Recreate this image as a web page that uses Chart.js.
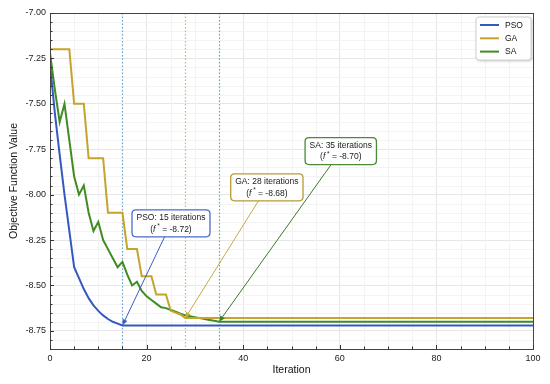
<!DOCTYPE html>
<html><head><meta charset="utf-8">
<script src="https://cdn.jsdelivr.net/npm/chart.js@4.4.1/dist/chart.umd.min.js"></script>
<style>html,body{margin:0;padding:0;background:#fff}</style>
</head><body>
<canvas id="c" width="550" height="384"></canvas>
<script>
// ---- data ----
const seriesNames = ['PSO', 'GA', 'SA'];
const psoIterations = [0,1,2,3,4,5,6,7,8,9,10,11,12,13,14,15,100];
const psoValues = [-7.28,-7.55,-7.78,-8.00,-8.20,-8.40,-8.46,-8.52,-8.57,-8.61,-8.64,-8.665,-8.685,-8.70,-8.71,-8.72,-8.72];
const gaIterations = [0,1,2,3,4,5,6,7,8,9,10,11,12,13,14,15,16,17,18,19,20,21,22,23,24,25,26,27,28,100];
const gaValues = [-7.2,-7.2,-7.2,-7.2,-7.2,-7.5,-7.5,-7.5,-7.8,-7.8,-7.8,-7.8,-8.1,-8.1,-8.1,-8.1,-8.3,-8.3,-8.3,-8.45,-8.45,-8.45,-8.55,-8.55,-8.55,-8.64,-8.65,-8.66,-8.68,-8.68];
const saIterations = [0,1,2,3,4,5,6,7,8,9,10,11,12,13,14,15,16,17,18,19,20,21,22,23,24,25,26,27,28,29,30,31,32,33,34,35,100];
const saValues = [-7.22,-7.42,-7.60,-7.50,-7.70,-7.90,-8.00,-7.95,-8.10,-8.20,-8.15,-8.25,-8.30,-8.35,-8.40,-8.37,-8.44,-8.50,-8.48,-8.53,-8.56,-8.58,-8.60,-8.62,-8.625,-8.635,-8.645,-8.655,-8.665,-8.67,-8.675,-8.68,-8.685,-8.69,-8.695,-8.70,-8.70];
// convergence annotations
const convergenceIterations = [15, 28, 35];
const convergenceValues = [-8.72, -8.68, -8.70];
const xTickValues = [0, 20, 40, 60, 80, 100];
const yTickValues = [-8.75, -8.50, -8.25, -8.00, -7.75, -7.50, -7.25, -7.00];

// ---- styling (not data) ----
const colors = ['#3558c0', '#c4a42a', '#3f8c22'];
const boxBorders = ['#4a6ccc', '#b89a32', '#4d8a36'];
const arrowColors = ['#3d5cc0', '#c4aa44', '#3d7a2a'];
const vlineColors = ['rgba(90,160,210,0.9)', 'rgba(235,160,80,0.9)', 'rgba(80,170,170,0.9)'];
const boxCenters = [[25.05, -8.158], [44.9, -7.96], [60.2, -7.76]]; // data-space placement of boxes
const FONT = '"Liberation Sans", Arial, Helvetica, sans-serif';

function pts(xs, ys) { return xs.map((v, i) => ({x: v, y: ys[i]})); }

function roundRect(ctx, x, y, w, h, r) {
  ctx.beginPath();
  ctx.moveTo(x + r, y);
  ctx.lineTo(x + w - r, y); ctx.quadraticCurveTo(x + w, y, x + w, y + r);
  ctx.lineTo(x + w, y + h - r); ctx.quadraticCurveTo(x + w, y + h, x + w - r, y + h);
  ctx.lineTo(x + r, y + h); ctx.quadraticCurveTo(x, y + h, x, y + h - r);
  ctx.lineTo(x, y + r); ctx.quadraticCurveTo(x, y, x + r, y);
  ctx.closePath();
}

const decor = {
  id: 'decor',
  beforeDatasetsDraw(chart) {
    const {ctx, chartArea: a, scales: {x, y}} = chart;
    ctx.save();
    // minor grid
    ctx.strokeStyle = '#f3f3f3'; ctx.lineWidth = 1;
    for (let v = 5; v < 100; v += 5) {
      if (v % 20 === 0) continue;
      const px = Math.round(x.getPixelForValue(v)) + 0.5;
      ctx.beginPath(); ctx.moveTo(px, a.top); ctx.lineTo(px, a.bottom); ctx.stroke();
    }
    for (let k = -176; k < -140; k++) {
      if (k % 5 === 0) continue;
      const py = Math.round(y.getPixelForValue(k * 0.05)) + 0.5;
      ctx.beginPath(); ctx.moveTo(a.left, py); ctx.lineTo(a.right, py); ctx.stroke();
    }
    // dotted vertical convergence lines
    ctx.lineWidth = 1.2;
    ctx.setLineDash([1.5, 2]);
    convergenceIterations.forEach((it, i) => {
      const px = Math.round(x.getPixelForValue(it)) + 0.5;
      ctx.strokeStyle = vlineColors[i];
      ctx.beginPath(); ctx.moveTo(px, a.top); ctx.lineTo(px, a.bottom); ctx.stroke();
    });
    ctx.restore();
  },
  afterDatasetsDraw(chart) {
    const {ctx, scales: {x, y}} = chart;
    ctx.save();
    const base = '8.5px ' + FONT;
    convergenceIterations.forEach((it, i) => {
      const tx = x.getPixelForValue(it), ty = y.getPixelForValue(convergenceValues[i]);
      const cx = x.getPixelForValue(boxCenters[i][0]), cy = y.getPixelForValue(boxCenters[i][1]);
      // arrow
      ctx.strokeStyle = arrowColors[i]; ctx.fillStyle = arrowColors[i]; ctx.lineWidth = 1;
      const ang = Math.atan2(ty - cy, tx - cx);
      const hl = 6, hw = 2.6;
      const bx = tx - hl * Math.cos(ang), by = ty - hl * Math.sin(ang);
      ctx.beginPath(); ctx.moveTo(cx, cy); ctx.lineTo(bx, by); ctx.stroke();
      ctx.beginPath();
      ctx.moveTo(tx, ty);
      ctx.lineTo(bx + hw * Math.sin(ang), by - hw * Math.cos(ang));
      ctx.lineTo(bx - hw * Math.sin(ang), by + hw * Math.cos(ang));
      ctx.closePath(); ctx.fill();
      // box
      const line1 = seriesNames[i] + ': ' + it + ' iterations';
      ctx.font = base;
      const w = ctx.measureText(line1).width + 9, h = 27;
      roundRect(ctx, cx - w / 2, cy - h / 2, w, h, 4);
      ctx.fillStyle = 'rgba(255,255,255,0.95)'; ctx.fill();
      ctx.strokeStyle = boxBorders[i]; ctx.lineWidth = 1.3; ctx.stroke();
      ctx.fillStyle = '#1a1a1a'; ctx.textBaseline = 'middle'; ctx.textAlign = 'left';
      ctx.fillText(line1, cx - ctx.measureText(line1).width / 2, cy - 5.5);
      const parts = [['(', base, 0], ['f', 'italic ' + base, 0], [' *', '6.5px ' + FONT, -3], [' = ' + convergenceValues[i].toFixed(2) + ')', base, 0]];
      let tw = 0;
      parts.forEach(p => { ctx.font = p[1]; tw += ctx.measureText(p[0]).width; });
      let px = cx - tw / 2;
      parts.forEach(p => { ctx.font = p[1]; ctx.fillText(p[0], px, cy + 6 + p[2]); px += ctx.measureText(p[0]).width; });
    });
    ctx.restore();
  },
  afterDraw(chart) {
    const {ctx, chartArea: a, scales: {x, y}} = chart;
    ctx.save();
    // frame
    ctx.strokeStyle = '#444'; ctx.lineWidth = 1;
    ctx.strokeRect(Math.round(a.left) + 0.5, Math.round(a.top) + 0.5, Math.round(a.right - a.left), Math.round(a.bottom - a.top));
    // inward ticks
    ctx.strokeStyle = '#333';
    for (let v = 0; v <= 100; v += 5) {
      const px = Math.round(x.getPixelForValue(v)) + 0.5, len = v % 20 === 0 ? 4 : 2.5;
      ctx.beginPath(); ctx.moveTo(px, a.bottom); ctx.lineTo(px, a.bottom - len); ctx.stroke();
    }
    for (let k = -177; k <= -140; k++) {
      const py = Math.round(y.getPixelForValue(k * 0.05)) + 0.5, len = k % 5 === 0 ? 4 : 2.5;
      ctx.beginPath(); ctx.moveTo(a.left, py); ctx.lineTo(a.left + len, py); ctx.stroke();
    }
    // legend
    const lw = 55, lh = 43, lx = a.right - lw - 2, ly = a.top + 4;
    ctx.shadowColor = 'rgba(0,0,0,0.25)'; ctx.shadowBlur = 3; ctx.shadowOffsetX = 1; ctx.shadowOffsetY = 1;
    roundRect(ctx, lx, ly, lw, lh, 3);
    ctx.fillStyle = '#fff'; ctx.fill();
    ctx.shadowColor = 'transparent';
    ctx.strokeStyle = '#d0d0d0'; ctx.lineWidth = 1; ctx.stroke();
    ctx.font = '8.5px ' + FONT; ctx.textBaseline = 'middle'; ctx.textAlign = 'left';
    chart.data.datasets.forEach((ds, i) => {
      const ry = ly + 8 + i * 13.3;
      ctx.strokeStyle = ds.borderColor; ctx.lineWidth = 2;
      ctx.beginPath(); ctx.moveTo(lx + 4, ry); ctx.lineTo(lx + 23, ry); ctx.stroke();
      ctx.fillStyle = '#111'; ctx.fillText(ds.label, lx + 29, ry + 0.5);
    });
    ctx.restore();
  }
};

new Chart(document.getElementById('c'), {
  type: 'line',
  data: {
    datasets: [
      {label: seriesNames[0], data: pts(psoIterations, psoValues), borderColor: colors[0], borderWidth: 2, pointRadius: 0, tension: 0, fill: false},
      {label: seriesNames[1], data: pts(gaIterations, gaValues), borderColor: colors[1], borderWidth: 2, pointRadius: 0, tension: 0, fill: false},
      {label: seriesNames[2], data: pts(saIterations, saValues), borderColor: colors[2], borderWidth: 2, pointRadius: 0, tension: 0, fill: false}
    ]
  },
  options: {
    responsive: false, animation: false, devicePixelRatio: 1,
    layout: {padding: {left: 0, top: 13, right: 17, bottom: 0}},
    plugins: {legend: {display: false}, tooltip: {enabled: false}},
    scales: {
      x: {
        type: 'linear', min: 0, max: 100,
        afterBuildTicks: s => { s.ticks = xTickValues.map(v => ({value: v})); },
        afterFit: s => { s.height = 35; },
        ticks: {font: {family: FONT, size: 9}, color: '#222', padding: 4, maxRotation: 0},
        grid: {color: '#e6e6e6', drawTicks: false},
        border: {color: '#333'},
        title: {display: true, text: 'Iteration', font: {family: FONT, size: 10.5}, color: '#111', padding: {top: 0, bottom: 8}}
      },
      y: {
        min: -8.85, max: -7.0,
        afterBuildTicks: s => { s.ticks = yTickValues.map(v => ({value: v})); },
        afterFit: s => { s.width = 50; },
        ticks: {font: {family: FONT, size: 9}, color: '#222', padding: 4, callback: v => v.toFixed(2)},
        grid: {color: '#e6e6e6', drawTicks: false},
        border: {color: '#333'},
        title: {display: true, text: 'Objective Function Value', font: {family: FONT, size: 10.5}, color: '#111', padding: {top: 8, bottom: 0}}
      }
    }
  },
  plugins: [decor]
});
</script>
</body></html>
